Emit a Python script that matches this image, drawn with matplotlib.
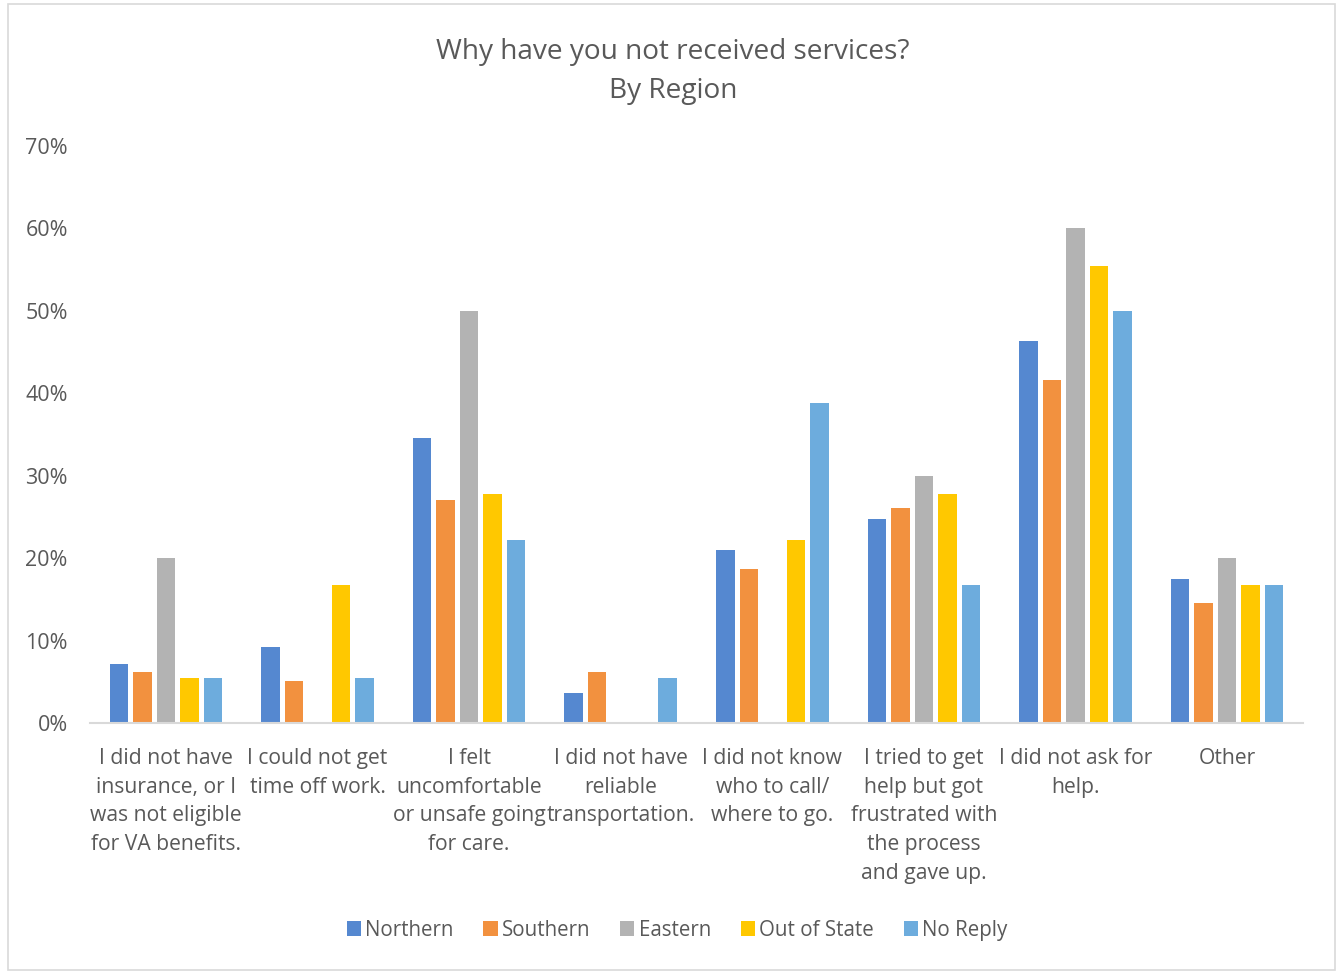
import numpy as np
import matplotlib.pyplot as plt
from matplotlib.patches import Rectangle

plt.rcParams['font.family'] = ['Open Sans', 'DejaVu Sans']

categories = ["I did not have\ninsurance, or I\nwas not eligible\nfor VA benefits.",
              "I could not get\ntime off work.",
              "I felt\nuncomfortable\nor unsafe going\nfor care.",
              "I did not have\nreliable\ntransportation.",
              "I did not know\nwho to call/\nwhere to go.",
              "I tried to get\nhelp but got\nfrustrated with\nthe process\nand gave up.",
              "I did not ask for\nhelp.",
              "Other"]

regions = ["Northern", "Southern", "Eastern", "Out of State", "No Reply"]

northern = [7.1, 9.2, 34.6, 3.6, 21.0, 24.7, 46.4, 17.5]
southern = [6.2, 5.1, 27.1, 6.2, 18.7, 26.1, 41.6, 14.5]
eastern = [20.0, 0, 50.0, 0, 0, 30.0, 60.0, 20.0]
out_of_state = [5.5, 16.7, 27.8, 0, 22.2, 27.8, 55.5, 16.7]
no_reply = [5.5, 5.5, 22.2, 5.5, 38.8, 16.7, 50.0, 16.7]

series = [northern, southern, eastern, out_of_state, no_reply]
colors = ['#5588D0', '#F2913F', '#B3B3B3', '#FFC800', '#6DACDD']
text_col = '#595959'

fig = plt.figure(figsize=(13.38, 9.72), dpi=100)
ax = fig.add_axes([0.0673, 0.2562, 0.9065, 0.5936])

x = np.arange(len(categories))
step = 0.155
width = 0.122
for i, (vals, name) in enumerate(zip(series, regions)):
    ax.bar(x + (i - 2) * step, np.array(vals) / 100, width, color=colors[i], label=name)

ax.set_xlim(-0.5, len(categories) - 0.5)
ax.set_ylim(0, 0.7)
ax.set_yticks(np.arange(0, 0.71, 0.1))
ax.set_yticklabels([f"{int(round(v * 100))}%" for v in np.arange(0, 0.71, 0.1)])
ax.set_xticks(x)
ax.set_xticklabels(categories, linespacing=1.48)
ax.tick_params(axis='y', length=0, pad=16, labelsize=15.5, labelcolor=text_col)
ax.tick_params(axis='x', length=0, pad=18, labelsize=15.2, labelcolor=text_col)
for s in ['top', 'right', 'left']:
    ax.spines[s].set_visible(False)
ax.spines['bottom'].set_color('#D9D9D9')
ax.spines['bottom'].set_linewidth(1.5)

fig.text(0.503, 0.9265, "Why have you not received services?\nBy Region", ha='center', va='center',
         fontsize=20.2, color=text_col, linespacing=1.56)

ax.legend(loc='center', bbox_to_anchor=(0.506, 0.043), bbox_transform=fig.transFigure, ncol=5,
          frameon=False, fontsize=14.8, handlelength=0.7, handleheight=0.7, handletextpad=0.2,
          columnspacing=1.45, labelcolor=text_col)

fig.patches.append(Rectangle((0.006, 0.002), 0.992, 0.994, transform=fig.transFigure,
                             fill=False, edgecolor='#D9D9D9', linewidth=1.2))

fig.savefig('out.png', dpi=100)
